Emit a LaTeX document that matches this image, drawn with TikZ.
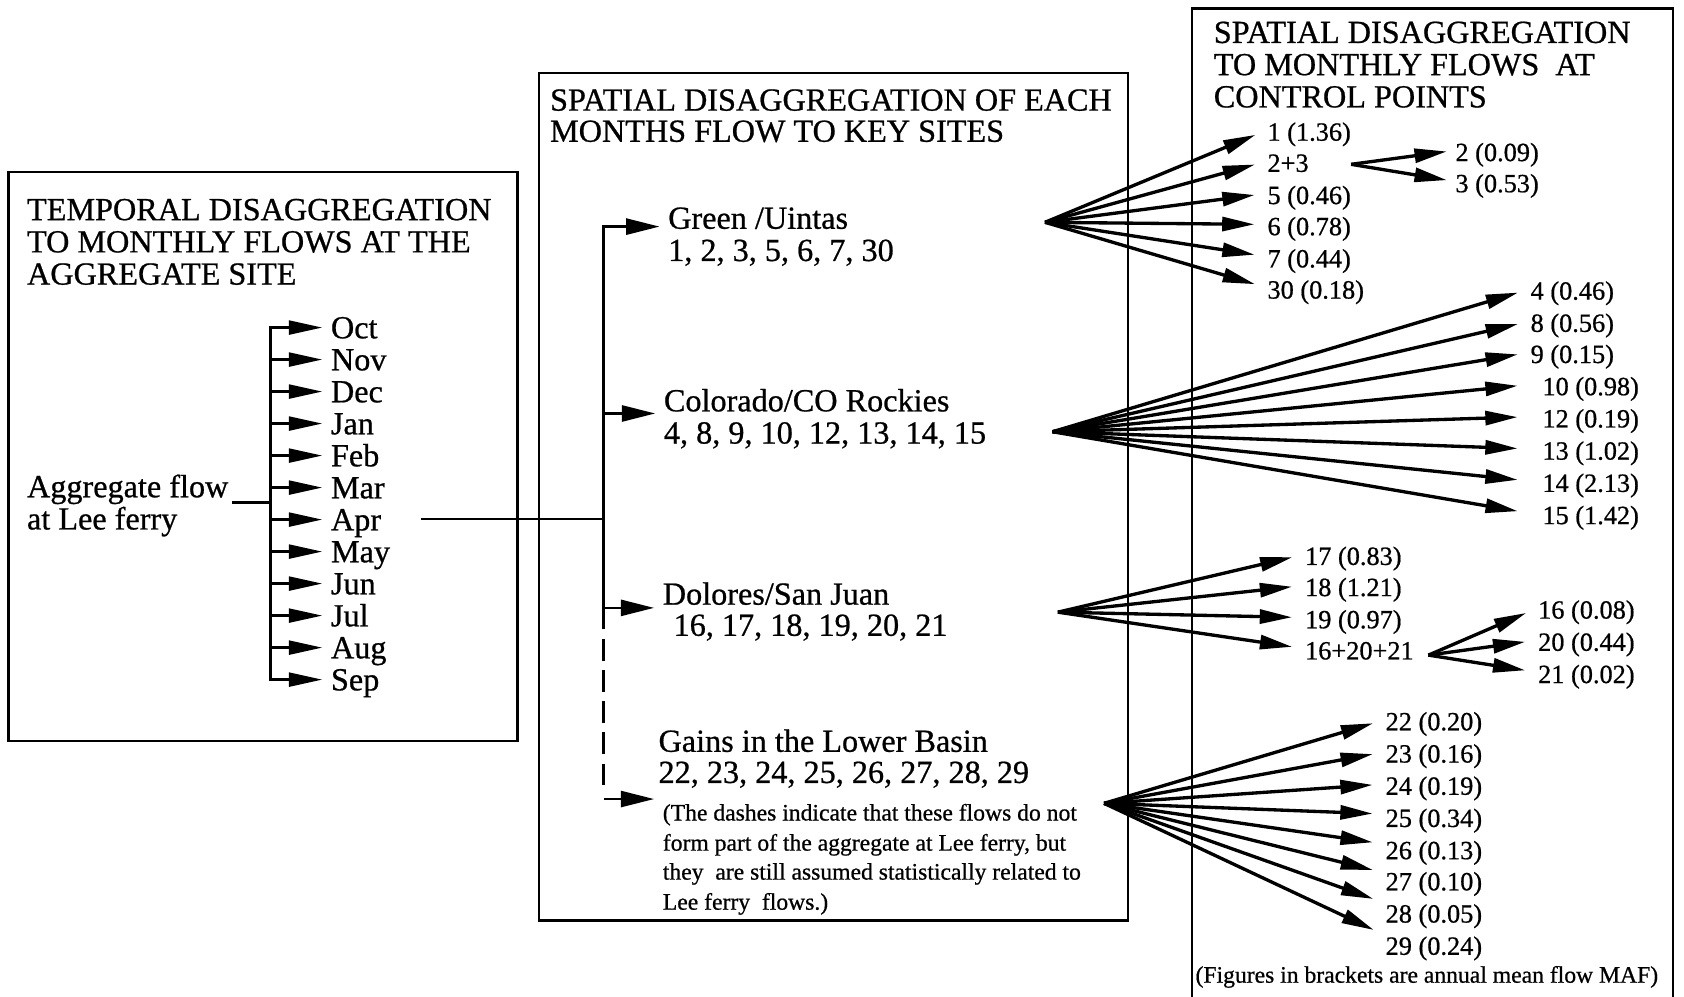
\documentclass[tikz,border=0pt]{standalone}
\usepackage{fontspec}
\setmainfont{Liberation Serif}[FakeBold=0.7]
\usetikzlibrary{arrows.meta}
\begin{document}
\begin{tikzpicture}[x=1pt,y=-1pt,
  box/.style={draw,line width=2.2pt},
  big/.style={font=\fontsize{30pt}{30pt}\selectfont,inner sep=0pt,anchor=base west},
  mon/.style={big,text height=20pt,text depth=0pt},
  num/.style={font=\fontsize{24.5pt}{29pt}\selectfont,inner sep=0pt,anchor=base west,text height=20pt,text depth=0pt},
  small/.style={font=\fontsize{22pt}{28pt}\selectfont,inner sep=0pt,anchor=base west},
  fan/.style={line width=3.1pt,-{Triangle[length=30pt,width=13pt]},shorten >=12pt},
  marr/.style={line width=2.2pt,-{Triangle[length=31pt,width=13pt]},shorten >=8pt},
  barr/.style={line width=2.2pt,-{Triangle[length=31pt,width=15pt]},shorten >=8pt},
  brk/.style={line width=2.2pt,line cap=rect}]
\useasboundingbox (0,0) rectangle (1568,928);

% ---------------- left box ----------------
\draw[box] (8,160) rectangle (482,690);
\node[big] (tA) at (25,205) {TEMPORAL DISAGGREGATION};
\node[big] (tB) at (25,235) {TO MONTHLY FLOWS AT THE};
\node[big] (tC) at (25,265) {AGGREGATE SITE};
\node[big] (agg1) at (25,463) {Aggregate flow};
\node[big] (agg2) at (25,493) {at Lee ferry};
\coordinate (lb) at (252,0);
\foreach \m [count=\i from 0] in {Oct,Nov,Dec,Jan,Feb,Mar,Apr,May,Jun,Jul,Aug,Sep}{
  \node[mon] (m\i) at (308,{315+\i*29.8}) {\m};
  \draw[marr] (m\i.west -| lb) -- (m\i.west);
}
\draw[brk] (m0.west -| lb) -- (m11.west -| lb);
\coordinate (aggout) at (216,468);
\draw[line width=2.2pt] (aggout) -- (aggout -| lb);

% ---------------- middle box ----------------
\draw[box] (502,68) rectangle (1050,857);
\node[big] (mA) at (512,103) {SPATIAL DISAGGREGATION OF EACH};
\node[big] (mB) at (512,132) {MONTHS FLOW TO KEY SITES};
\node[big] (green1) at (622,213) {Green /Uintas};
\node[big] (green2) at (622,243) {1, 2, 3, 5, 6, 7, 30};
\node[big] (col1) at (618,383) {Colorado/CO Rockies};
\node[big] (col2) at (618,413) {4, 8, 9, 10, 12, 13, 14, 15};
\node[big] (dol1) at (617,563) {Dolores/San Juan};
\node[big] (dol2) at (627,592) {16, 17, 18, 19, 20, 21};
\node[big] (gain1) at (613,700) {Gains in the Lower Basin};
\node[big] (gain2) at (613,729) {22, 23, 24, 25, 26, 27, 28, 29};
\node[small] (note1) at (617,764) {(The dashes indicate that these flows do not};
\node[small] (note2) at (617,792) {form part of the aggregate at Lee ferry, but};
\node[small] (note3) at (617,819) {they\ \ are still assumed statistically related to};
\node[small] (note4) at (617,847) {Lee ferry\ \ flows.)};

\coordinate (bG) at (562,211);
\coordinate (bC) at (562,385);
\coordinate (bD) at (562,566);
\coordinate (bL) at (562,744);
\coordinate (bA) at (562,483);
\coordinate (aprout) at (392,483);
\draw[line width=2.2pt] (aprout) -- (bA);
\draw[brk] (bG) -- (bD);
\draw[line width=2.2pt,dash pattern=on 20pt off 9pt] (bD) -- ([yshift=8pt]bL);
\draw[barr] (bG) -- (bG -| green1.west);
\draw[barr] (bC) -- (bC -| col1.west);
\draw[barr] (bD) -- (bD -| dol1.west);
\draw[barr] (bL) -- (bL -| note1.west);

% ---------------- right box ----------------
\draw[box] (1110,935) -- (1110,8) -- (1558,8) -- (1558,935);
\node[big] (rA) at (1130,40) {SPATIAL DISAGGREGATION};
\node[big] (rB) at (1130,70) {TO MONTHLY FLOWS\ \ AT};
\node[big] (rC) at (1130,100) {CONTROL POINTS};

% Green / Uintas
\coordinate (sG) at (973,207);
\node[num] (r1) at (1180,131) {1 (1.36)};
\node[num] (r23) at (1180,160) {2+3};
\node[num] (r5) at (1180,190) {5 (0.46)};
\node[num] (r6) at (1180,219) {6 (0.78)};
\node[num] (r7) at (1180,249) {7 (0.44)};
\node[num] (r30) at (1180,278) {30 (0.18)};
\foreach \t in {r1,r23,r5,r6,r7,r30}{\draw[fan] (sG) -- (\t.west);}
\coordinate (s23) at (1258,153);
\node[num] (r2) at (1355,150) {2 (0.09)};
\node[num] (r3) at (1355,179) {3 (0.53)};
\draw[fan,shorten >=8pt] (s23) -- (r2.west);
\draw[fan,shorten >=8pt] (s23) -- (r3.west);

% Colorado
\coordinate (sC) at (980,402);
\node[num] (r4) at (1425,279) {4 (0.46)};
\node[num] (r8) at (1425,309) {8 (0.56)};
\node[num] (r9) at (1425,338) {9 (0.15)};
\node[num] (r10) at (1425,368) {\hspace{11pt}10 (0.98)};
\node[num] (r12) at (1425,398) {\hspace{11pt}12 (0.19)};
\node[num] (r13) at (1425,428) {\hspace{11pt}13 (1.02)};
\node[num] (r14) at (1425,458) {\hspace{11pt}14 (2.13)};
\node[num] (r15) at (1425,488) {\hspace{11pt}15 (1.42)};
\foreach \t in {r4,r8,r9,r10,r12,r13,r14,r15}{\draw[fan] (sC) -- (\t.west);}

% Dolores / San Juan
\coordinate (sD) at (985,570);
\node[num] (r17) at (1215,526) {17 (0.83)};
\node[num] (r18) at (1215,555) {18 (1.21)};
\node[num] (r19) at (1215,585) {19 (0.97)};
\node[num] (r162021) at (1215,614) {16+20+21};
\foreach \t in {r17,r18,r19,r162021}{\draw[fan] (sD) -- (\t.west);}
\coordinate (s16) at (1330,610);
\node[num] (r16) at (1432,576) {16 (0.08)};
\node[num] (r20) at (1432,606) {20 (0.44)};
\node[num] (r21) at (1432,636) {21 (0.02)};
\foreach \t in {r16,r20,r21}{\draw[fan] (s16) -- (\t.west);}

% Lower Basin
\coordinate (sL) at (1028,748);
\node[num] (r22) at (1290,680) {22 (0.20)};
\node[num] (r24b) at (1290,710) {23 (0.16)};
\node[num] (r24) at (1290,740) {24 (0.19)};
\node[num] (r25) at (1290,770) {25 (0.34)};
\node[num] (r26) at (1290,800) {26 (0.13)};
\node[num] (r27) at (1290,829) {27 (0.10)};
\node[num] (r28) at (1290,859) {28 (0.05)};
\node[num] (r29) at (1290,889) {29 (0.24)};
\foreach \t/\d in {r22/0,r24b/0,r24/0,r25/2,r26/4,r27/6,r28/8,r29/8}{
  \draw[fan] (sL) -- ([yshift=\d pt]\t.west);}
\node[small] (fig) at (1113,915) {(Figures in brackets are annual mean flow MAF)};
\end{tikzpicture}
\end{document}
